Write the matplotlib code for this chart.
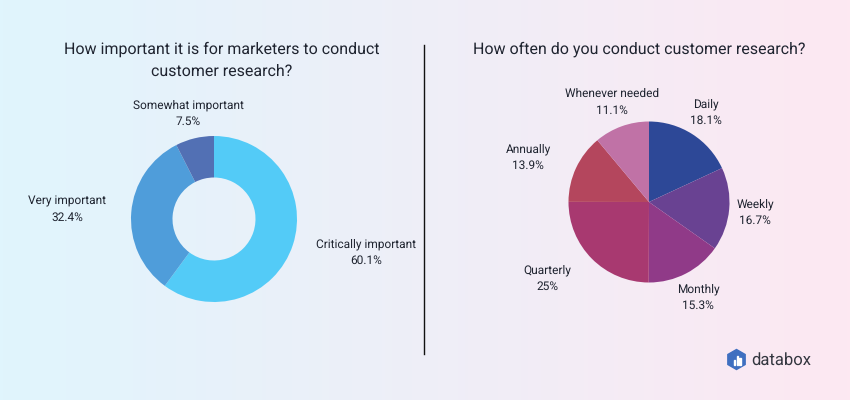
import matplotlib
matplotlib.use('Agg')
import matplotlib.pyplot as plt
from matplotlib.patches import RegularPolygon, Rectangle
import numpy as np

plt.rcParams['font.family'] = ['Roboto', 'DejaVu Sans']
plt.rcParams['text.hinting'] = 'no_hinting'

# Data from the image
left_title = "How important it is for marketers to conduct\ncustomer research?"
left_labels = ["Critically important", "Very important", "Somewhat important"]
left_values = [60.1, 32.4, 7.5]
left_colors = ['#53CBF7', '#4F9DDA', '#5270B4']

right_title = "How often do you conduct customer research?"
right_labels = ["Daily", "Weekly", "Monthly", "Quarterly", "Annually", "Whenever needed"]
right_values = [18.1, 16.7, 15.3, 25, 13.9, 11.1]
right_pct = ["18.1%", "16.7%", "15.3%", "25%", "13.9%", "11.1%"]
right_colors = ['#2D4897', '#694292', '#903A88', '#A83970', '#B4465D', '#C072A6']

W, H = 850, 400
fig = plt.figure(figsize=(W / 100, H / 100), dpi=100)

# background gradient, pixel coordinates from here on
ax = fig.add_axes([0, 0, 1, 1])
ax.set_xlim(0, W)
ax.set_ylim(H, 0)
ax.axis('off')
c0 = np.array([0xE0, 0xF5, 0xFD]) / 255
c1 = np.array([0xFD, 0xE8, 0xF2]) / 255
t = np.linspace(0, 1, 256)[None, :, None]
ax.imshow(c0 + (c1 - c0) * t, extent=(0, W, H, 0), aspect='auto', zorder=0)


def pie_axes(cx, cy, r):
    return fig.add_axes([(cx - r) / W, 1 - (cy + r) / H, 2 * r / W, 2 * r / H])


# donut
ax1 = pie_axes(214, 219, 83)
ax1.pie(left_values, colors=left_colors, startangle=90, counterclock=False, radius=1,
        wedgeprops=dict(width=0.5, linewidth=0))
ax1.set_xlim(-1, 1)
ax1.set_ylim(-1, 1)

# pie
ax2 = pie_axes(649, 202, 80.5)
ax2.pie(right_values, colors=right_colors, startangle=90, counterclock=False, radius=1,
        wedgeprops=dict(width=1, linewidth=0))
ax2.set_xlim(-1, 1)
ax2.set_ylim(-1, 1)

txt = '#1F2430'
ax.text(222, 60.5, left_title, fontsize=11.55, color=txt, ha='center', va='center', linespacing=1.6)
ax.text(639.5, 49.5, right_title, fontsize=11.55, color=txt, ha='center', va='center')
ax.plot([424.5, 424.5], [45, 354], color='#111111', lw=1)

left_pos = [(366.5, 252.5), (67, 209.5), (188.5, 113.5)]
for name, v, (x, y) in zip(left_labels, left_values, left_pos):
    ax.text(x, y, f"{name}\n{v}%", fontsize=8.6, color=txt, ha='center', va='center', linespacing=1.55)

right_pos = [(706, 112), (755, 212.5), (698, 297), (547, 278), (528, 157.5), (612, 102)]
for name, p, (x, y) in zip(right_labels, right_pct, right_pos):
    ax.text(x, y, f"{name}\n{p}", fontsize=8.6, color=txt, ha='center', va='center', linespacing=1.55)

# logo
ax.add_patch(RegularPolygon((736.5, 359.5), 6, radius=10, color='#3F6FC0', zorder=3))
for bx, bh in [(733.8, 5), (736.6, 9), (739.4, 7)]:
    ax.add_patch(Rectangle((bx, 364.5 - bh), 1.3, bh, color='white', zorder=4))
ax.text(751, 360, "databox", fontsize=12, color='#33363F', ha='left', va='center')

fig.savefig('out.png', dpi=100)
